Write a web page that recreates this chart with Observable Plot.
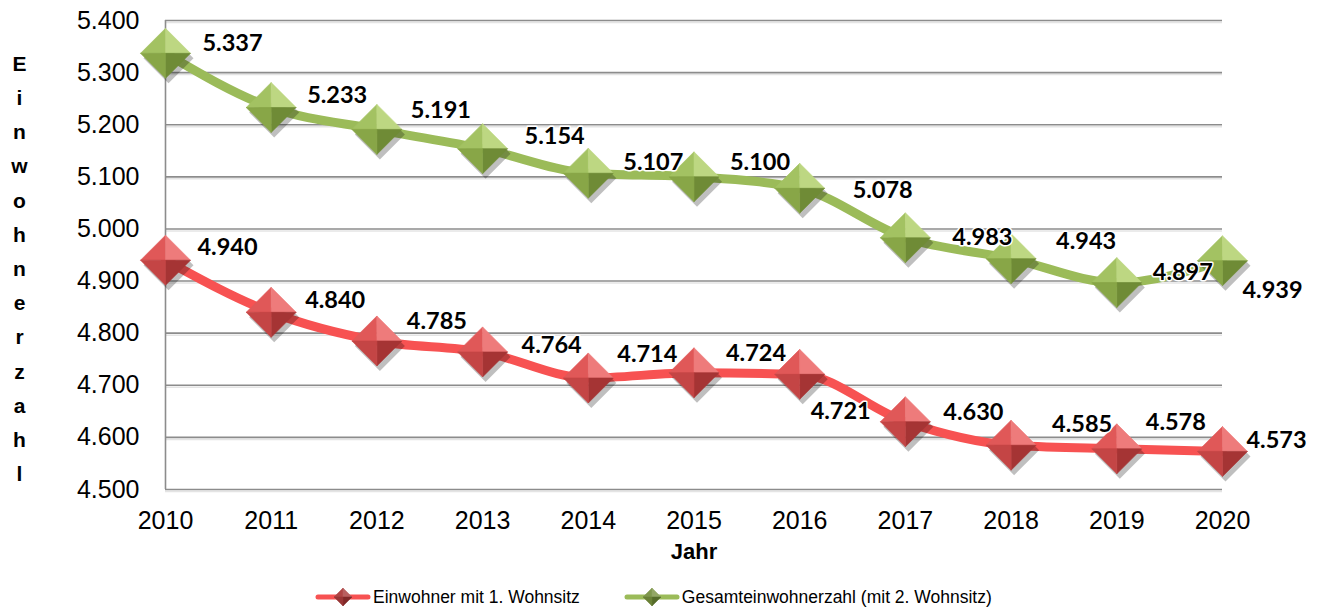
<!DOCTYPE html>
<html><head><meta charset="utf-8">
<script src="https://cdn.jsdelivr.net/npm/d3@7"></script>
<script src="https://cdn.jsdelivr.net/npm/@observablehq/plot@0.6"></script>
<style>
body{margin:0;background:#fff;font-family:"Liberation Sans",Arial,sans-serif;}
#chart svg{display:block}
#legend{height:30px;display:flex;align-items:center;padding-left:315px;font-size:17.5px;color:#000}
.item{display:flex;align-items:center}
.item svg{display:block;margin-right:2px}
</style></head><body><div id="chart"></div><div id="legend"></div>
<script>
// ---- data ----
const years = [2010, 2011, 2012, 2013, 2014, 2015, 2016, 2017, 2018, 2019, 2020];
const erstwohnsitz = [4940, 4840, 4785, 4764, 4714, 4724, 4721, 4630, 4585, 4578, 4573];
const gesamt = [5337, 5233, 5191, 5154, 5107, 5100, 5078, 4983, 4943, 4897, 4939];
const yTicks = [4500, 4600, 4700, 4800, 4900, 5000, 5100, 5200, 5300, 5400];
const seriesNames = ["Einwohner mit 1. Wohnsitz", "Gesamteinwohnerzahl (mit 2. Wohnsitz)"];
const yTitle = "Einwohnerzahl";
const xTitle = "Jahr";

// ---- layout / style (label nudges in px) ----
const labelNudge = {
  [seriesNames[0]]: [[62,-13],[64,-12],[60,-20],[69,-6],[59,-24],[62,-19],[41,37],[68,-9],[71,-21],[59,-26],[54,-11]],
  [seriesNames[1]]: [[67,-10],[66,-12],[64,-19],[72,-12],[65,-11],[66,-14],[83,2],[77,0],[75,-17],[66,-10],[50,30]]
};
const styles = {
  [seriesNames[0]]: {line: "#f75252", facets: ["#e05858", "#ee7b7b", "#a53434", "#c44545"]},
  [seriesNames[1]]: {line: "#9bbb59", facets: ["#a3c262", "#bdd782", "#6f8b36", "#88a647"]}
};

const fmt = d3.formatLocale({decimal: ",", thousands: ".", grouping: [3], currency: ["", "€"]}).format(",d");

const rows = [];
years.forEach((y, i) => rows.push({series: seriesNames[0], year: y, value: erstwohnsitz[i], i}));
years.forEach((y, i) => rows.push({series: seriesNames[1], year: y, value: gesamt[i], i}));

const P = [[-1,0],[0,-1],[1,0],[0,1]];
function facet(k) {
  return {draw(ctx, size) {
    const h = Math.sqrt(size / Math.PI);
    const a = P[k], b = P[(k + 1) % 4];
    ctx.moveTo(a[0]*h, a[1]*h); ctx.lineTo(b[0]*h, b[1]*h); ctx.lineTo(0, 0); ctx.closePath();
  }};
}
const fullDiamond = {draw(ctx, size) {
  const h = Math.sqrt(size / Math.PI);
  ctx.moveTo(-h, 0); ctx.lineTo(0, -h); ctx.lineTo(h, 0); ctx.lineTo(0, h); ctx.closePath();
}};

const marks = [
  Plot.ruleY(yTicks, {stroke: "#e4e4e4", strokeWidth: 1.5, dy: 2}),
  Plot.ruleY(yTicks, {stroke: "#8c8c8c", strokeWidth: 1.6}),
  Plot.ruleX([years[0]], {stroke: "#8c8c8c", strokeWidth: 1.6}),
];
for (const s of seriesNames) {
  const data = rows.filter(d => d.series === s);
  marks.push(Plot.line(data, {x: "year", y: "value", stroke: styles[s].line, strokeWidth: 9, curve: "monotone-x"}));
}
for (const s of seriesNames) {
  const data = rows.filter(d => d.series === s);
  marks.push(Plot.dot(data, {x: "year", y: "value", r: 25, symbol: fullDiamond, fill: "#000", fillOpacity: 0.25, dx: 3, dy: 5, ariaLabel: "marker-shadow"}));
  for (let k = 0; k < 4; k++) {
    marks.push(Plot.dot(data, {x: "year", y: "value", r: 25, symbol: facet(k), fill: styles[s].facets[k], stroke: styles[s].facets[k], strokeWidth: 0.6}));
  }
}
for (const d of rows) {
  const [dx, dy] = labelNudge[d.series][d.i];
  marks.push(Plot.text([d], {x: "year", y: "value", text: d => fmt(d.value), dx, dy,
    fontFamily: "Lato, 'Open Sans', sans-serif", fontWeight: "bold", fontSize: 23.5, fill: "#000",
    stroke: "white", strokeWidth: 3, textAnchor: "middle", lineAnchor: "middle"}));
}
marks.push(Plot.text([yTitle.split("").join("\n")], {text: d => d, frameAnchor: "left", dx: -146, dy: 10,
  lineHeight: 1.63, fontSize: 21, fontWeight: "bold", textAnchor: "middle", fill: "#000"}));
marks.push(Plot.text([xTitle], {text: d => d, frameAnchor: "bottom", dy: 69, fontSize: 22, fontWeight: "bold", fill: "#000"}));

const chart = Plot.plot({
  width: 1321, height: 582,
  marginLeft: 165, marginRight: 99, marginTop: 20, marginBottom: 93,
  style: {fontSize: "25px", fontFamily: "'Liberation Sans', Arial, sans-serif", color: "#000", background: "white", overflow: "visible"},
  x: {domain: [years[0], years[years.length - 1]], ticks: years, tickFormat: d => String(d), tickSize: 0, tickPadding: 22, label: null},
  y: {domain: [yTicks[0], yTicks[yTicks.length - 1]], ticks: yTicks, tickFormat: fmt, tickSize: 0, tickPadding: 26, label: null},
  marks
});
chart.querySelectorAll('g[aria-label="marker-shadow"]').forEach(g => g.style.filter = "blur(2.5px)");
document.getElementById("chart").appendChild(chart);

// legend
function icon(s) {
  const c = styles[s], h = 9, cx = 28, cy = 10;
  const pts = [[cx-h,cy],[cx,cy-h],[cx+h,cy],[cx,cy+h]];
  let polys = "";
  for (let k = 0; k < 4; k++) {
    const a = pts[k], b = pts[(k+1)%4];
    const col = d3.color(c.facets[k]).darker(0.7);
    polys += `<polygon points="${a} ${b} ${cx},${cy}" fill="${col}" stroke="${col}" stroke-width="0.5"/>`;
  }
  return `<svg width="56" height="20"><line x1="3" y1="10" x2="53" y2="10" stroke="${c.line}" stroke-width="5" stroke-linecap="round"/>${polys}</svg>`;
}
const leg = document.getElementById("legend");
seriesNames.forEach((s, i) => {
  const el = document.createElement("div");
  el.className = "item";
  if (i > 0) el.style.marginLeft = "44px";
  el.innerHTML = icon(s) + `<span>${s}</span>`;
  leg.appendChild(el);
});
</script>
</body></html>
